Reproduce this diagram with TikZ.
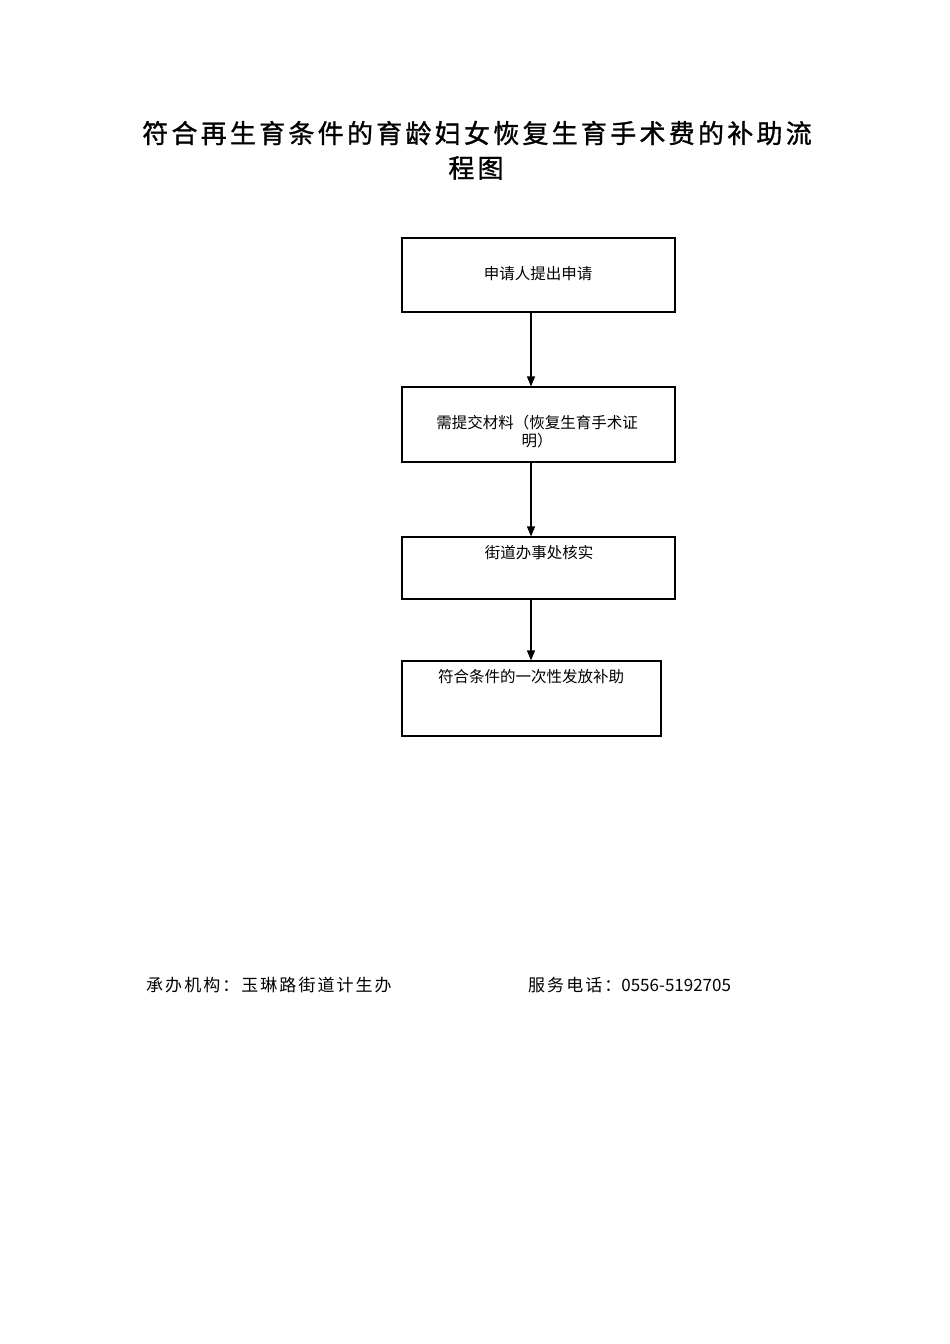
\documentclass[tikz,border=0pt]{standalone}
\usepackage{fontspec}
\setmainfont{Noto Sans CJK SC}
\newfontfamily\cjk{Noto Sans CJK SC}
\newfontfamily\cjktitle[LetterSpace=12.5, FakeBold=1.2]{Noto Sans CJK SC}
\newfontfamily\cjkfoot[LetterSpace=12]{Noto Sans CJK SC}
\usetikzlibrary{arrows.meta}
\tikzset{
  flowbox/.style={draw, line width=1.2pt, inner sep=0pt},
  boxtext/.style={font=\cjk\fontsize{15.5}{18}\selectfont, inner sep=0pt, align=center},
  flowarrow/.style={line width=1.2pt, -{Triangle[length=10pt,width=8pt]}},
  titletext/.style={font=\cjktitle\fontsize{26}{30}\selectfont, inner sep=0pt},
  foottext/.style={font=\cjkfoot\fontsize{17}{20}\selectfont, inner sep=0pt, anchor=west},
}
\begin{document}
\begin{tikzpicture}[x=1pt,y=-1pt]
\useasboundingbox (0,0) rectangle (950,1344);
\fill[white] (0,0) rectangle (950,1344);
% title
\node[titletext] (t1) at (477,133) {符合再生育条件的育龄妇女恢复生育手术费的补助流};
\node[titletext] (t2) at (476,168) {程图};
% boxes
\node[flowbox, minimum width=273pt, minimum height=74pt] (b1) at (538.5,275) {};
\node[flowbox, minimum width=273pt, minimum height=75pt] (b2) at (538.5,424.5) {};
\node[flowbox, minimum width=273pt, minimum height=62pt] (b3) at (538.5,568) {};
\node[flowbox, minimum width=259pt, minimum height=75pt] (b4) at (531.5,698.5) {};
% box texts
\node[boxtext] (x1) at (538,274) {申请人提出申请};
\node[boxtext, text width=230pt] (x2) at (537,432) {需提交材料（恢复生育手术证\\明）};
\node[boxtext] (x3) at (539,553) {街道办事处核实};
\node[boxtext] (x4) at (531,677) {符合条件的一次性发放补助};
% arrows
\coordinate (ax) at (531,0);
\draw[flowarrow] (b1.south -| ax) -- (b2.north -| ax);
\draw[flowarrow] (b2.south -| ax) -- (b3.north -| ax);
\draw[flowarrow] (b3.south -| ax) -- (b4.north -| ax);
% footer
\node[foottext] (f1) at (146,985) {承办机构：玉琳路街道计生办};
\node[foottext] (f2) at (528,985) {服务电话：{\cjk 0556-5192705}};
\end{tikzpicture}
\end{document}
